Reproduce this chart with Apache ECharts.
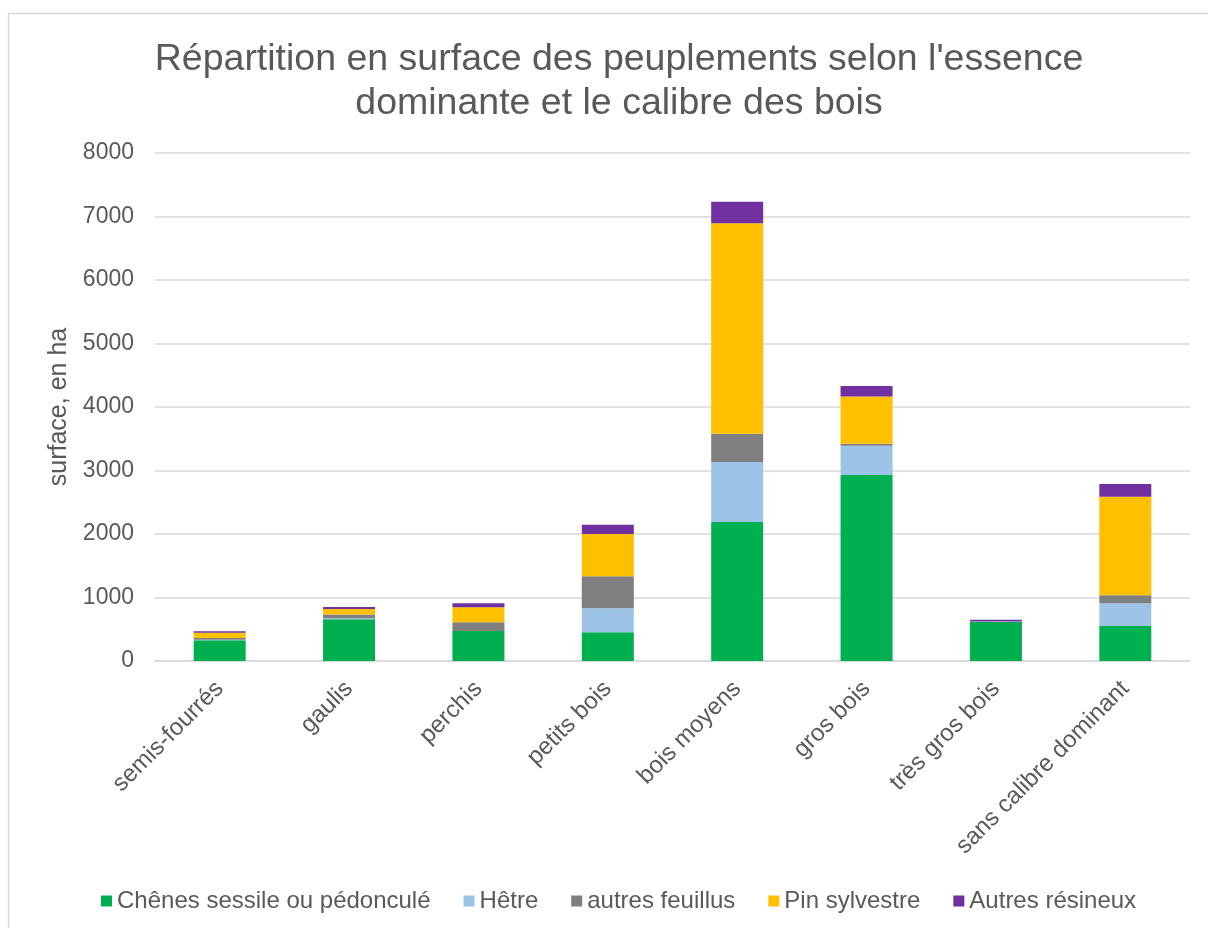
<!DOCTYPE html>
<html><head><meta charset="utf-8">
<script src="https://cdn.jsdelivr.net/npm/echarts@6/dist/echarts.min.js"></script>
<style>html,body{margin:0;padding:0;background:#fff}#c{width:1208px;height:928px}</style>
</head><body><div id="c"></div>
<script>
const categories = ['semis-fourrés','gaulis','perchis','petits bois','bois moyens','gros bois','très gros bois','sans calibre dominant'];
const seriesNames = ['Chênes sessile ou pédonculé','Hêtre','autres feuillus','Pin sylvestre','Autres résineux'];
const chenes = [326, 657, 472, 452, 2190, 2930, 614, 551];
const hetre = [10, 15, 0, 378, 944, 460, 10, 357];
const autresFeuillus = [25, 60, 137, 504, 446, 30, 0, 126];
const pin = [85, 88, 236, 666, 3313, 745, 0, 1553];
const autresResineux = [22, 30, 63, 147, 340, 165, 25, 200];
const yTicks = [0, 8000, 1000];
const colors = ['#00B050','#9DC3E6','#7F7F7F','#FFC000','#7030A0'];

const font = 'Liberation Sans, Arial, sans-serif';
const txt = '#595959';
const data = [chenes, hetre, autresFeuillus, pin, autresResineux];
const chart = echarts.init(document.getElementById('c'));
chart.setOption({
  animation: false,
  textStyle: {fontFamily: font},
  title: {
    text: "Répartition en surface des peuplements selon l'essence\ndominante et le calibre des bois",
    left: 614, top: 33, textAlign: 'center',
    textStyle: {fontFamily: font, fontSize: 37.5, fontWeight: 'normal', color: txt, lineHeight: 44}
  },
  graphic: [{type: 'rect', shape: {x: 8.5, y: 13.5, width: 1215, height: 940}, style: {fill: 'none', stroke: '#D9D9D9', lineWidth: 1.5}, silent: true, z: -1}],
  legend: {
    top: 884, left: 96, itemWidth: 11, itemHeight: 11, itemGap: 33,
    icon: 'rect',
    textStyle: {fontFamily: font, fontSize: 24, color: txt},
    data: seriesNames
  },
  grid: {left: 155, right: 18, top: 153, bottom: 267, containLabel: false},
  xAxis: {
    type: 'category', data: categories,
    axisLine: {lineStyle: {color: '#D9D9D9', width: 1.5}},
    axisTick: {show: false},
    axisLabel: {rotate: 45, margin: 24, fontSize: 24, color: txt, fontFamily: font, interval: 0}
  },
  yAxis: {
    type: 'value', min: yTicks[0], max: yTicks[1], interval: yTicks[2],
    name: 'surface, en ha', nameLocation: 'middle', nameGap: 83, nameRotate: 90,
    nameTextStyle: {fontSize: 25, color: txt, fontFamily: font},
    axisLine: {show: false}, axisTick: {show: false},
    axisLabel: {fontSize: 23, color: txt, fontFamily: font, margin: 21, formatter: v => String(v)},
    splitLine: {lineStyle: {color: '#D9D9D9', width: 1.5}}
  },
  series: seriesNames.map((n, i) => ({
    name: n, type: 'bar', stack: 'total', data: data[i], barWidth: 52,
    itemStyle: {color: colors[i]}
  }))
});
</script></body></html>
